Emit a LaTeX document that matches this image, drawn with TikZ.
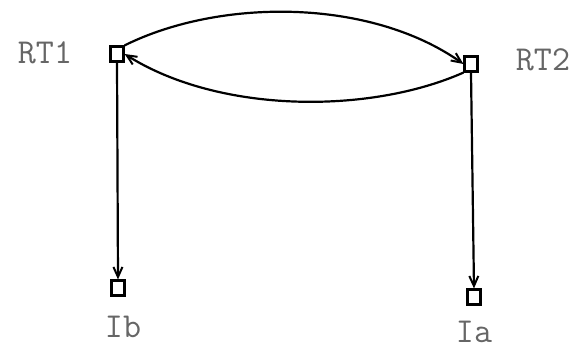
\documentclass[tikz,border=0pt]{standalone}
\usetikzlibrary{arrows.meta}
\begin{document}
\begin{tikzpicture}[x=1pt,y=-1pt,
  box/.style={draw=black,line width=2.2pt,minimum width=13pt,minimum height=15pt,inner sep=0pt},
  lbl/.style={text=black!60,font=\ttfamily\fontsize{35}{35}\selectfont,inner sep=0pt},
  conn/.style={draw=black,line width=2.2pt,-{Straight Barb[length=10pt,width=9pt,line width=2pt]}}]
\useasboundingbox (0,0) rectangle (578,351);
\node[box] (rt1) at (117,54) {};
\node[box] (rt2) at (471,64) {};
\node[box] (ib) at (118,288) {};
\node[box] (ia) at (474,297) {};
\node[lbl] (l1) at (45,53) {RT1};
\node[lbl] (l2) at (543,60) {RT2};
\node[lbl] (l3) at (123,327) {Ib};
\node[lbl] (l4) at (474,332) {Ia};
\draw[conn] (rt1.north east) .. controls (220,-2) and (370,-2) .. (rt2.west);
\draw[conn] (rt2.south west) .. controls (370,114) and (220,114) .. (rt1.east);
\draw[conn] (rt1.south) -- (ib.north);
\draw[conn] (rt2.south) -- (ia.north);
\end{tikzpicture}
\end{document}
